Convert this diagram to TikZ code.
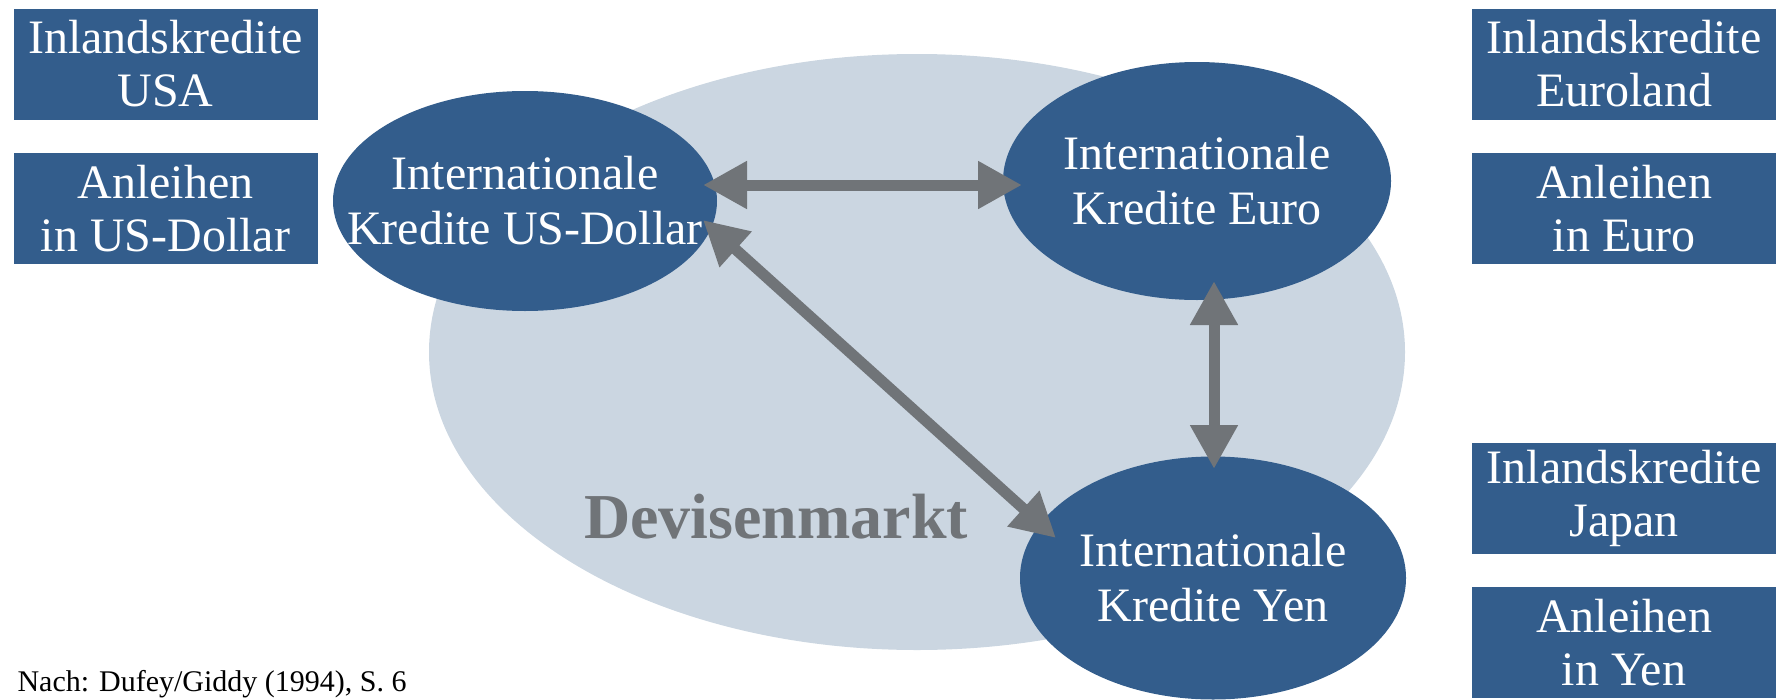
\documentclass[tikz,border=0pt]{standalone}
\usepackage{fontspec}
\setmainfont{Liberation Serif}
\usetikzlibrary{arrows.meta,shapes.geometric}

\definecolor{boxblue}{RGB}{51,93,140}
\definecolor{fxgray}{RGB}{203,214,225}
\definecolor{arrowgray}{RGB}{112,116,120}

\tikzset{
  box/.style={fill=boxblue, text=white, minimum width=304pt, minimum height=111pt,
    inner sep=0pt, align=center, font=\fontsize{48}{53}\selectfont},
  credit/.style={ellipse, fill=boxblue, inner sep=0pt},
  credittext/.style={text=white, align=center, inner sep=0pt,
    font=\fontsize{48}{55}\selectfont},
  link/.style={arrowgray, line width=11pt,
    {Triangle[length=44pt,width=45pt]}-{Triangle[length=44pt,width=45pt]}}
}

\begin{document}
\begin{tikzpicture}[x=1pt,y=-1pt]
      \useasboundingbox (0,0) rectangle (1780,699);
      \node[ellipse, fill=fxgray, minimum width=976pt, minimum height=596pt] (fx) at (917,352) {};
      \node[anchor=base, text=arrowgray, font=\fontsize{64}{70}\selectfont\bfseries] (fxlabel) at (776,538) {Devisenmarkt};
      \node[credit, minimum width=384pt, minimum height=220pt,
        label={[credittext]center:Internationale\\Kredite US-Dollar}] (usd) at (525,201) {};
      \node[credit, minimum width=388pt, minimum height=238pt,
        label={[credittext]center:Internationale\\Kredite Euro}] (eur) at (1197,181) {};
      \node[credit, minimum width=386pt, minimum height=243pt,
        label={[credittext]center:Internationale\\Kredite Yen}] (yen) at (1213,578) {};
      \foreach \nm/\px/\py/\txt in {usa/165.5/64/{Inlandskredite\\USA},
                                    usbond/165.5/208.5/{Anleihen\\in US-Dollar},
                                    euland/1624/64/{Inlandskredite\\Euroland},
                                    eubond/1624/208.5/{Anleihen\\in Euro},
                                    japan/1624/498/{Inlandskredite\\Japan},
                                    yenbond/1624/642.5/{Anleihen\\in Yen}} {
        \node[box] (\nm) at (\px,\py) {\txt};
      }
      \draw[link] ([shift={(178,-16)}]usd.center) -- ([shift={(-175,4)}]eur.center);
      \draw[link] ([shift={(178,19)}]usd.center) -- ([shift={(-157,-40)}]yen.center);
      \draw[link] ([shift={(17,100)}]eur.center) -- ([shift={(1,-109)}]yen.center);
      \node[anchor=base west, font=\fontsize{30}{36}\selectfont] (src) at (14,691) {Nach: Dufey/Giddy (1994), S. 6};
    \end{tikzpicture}
\end{document}
